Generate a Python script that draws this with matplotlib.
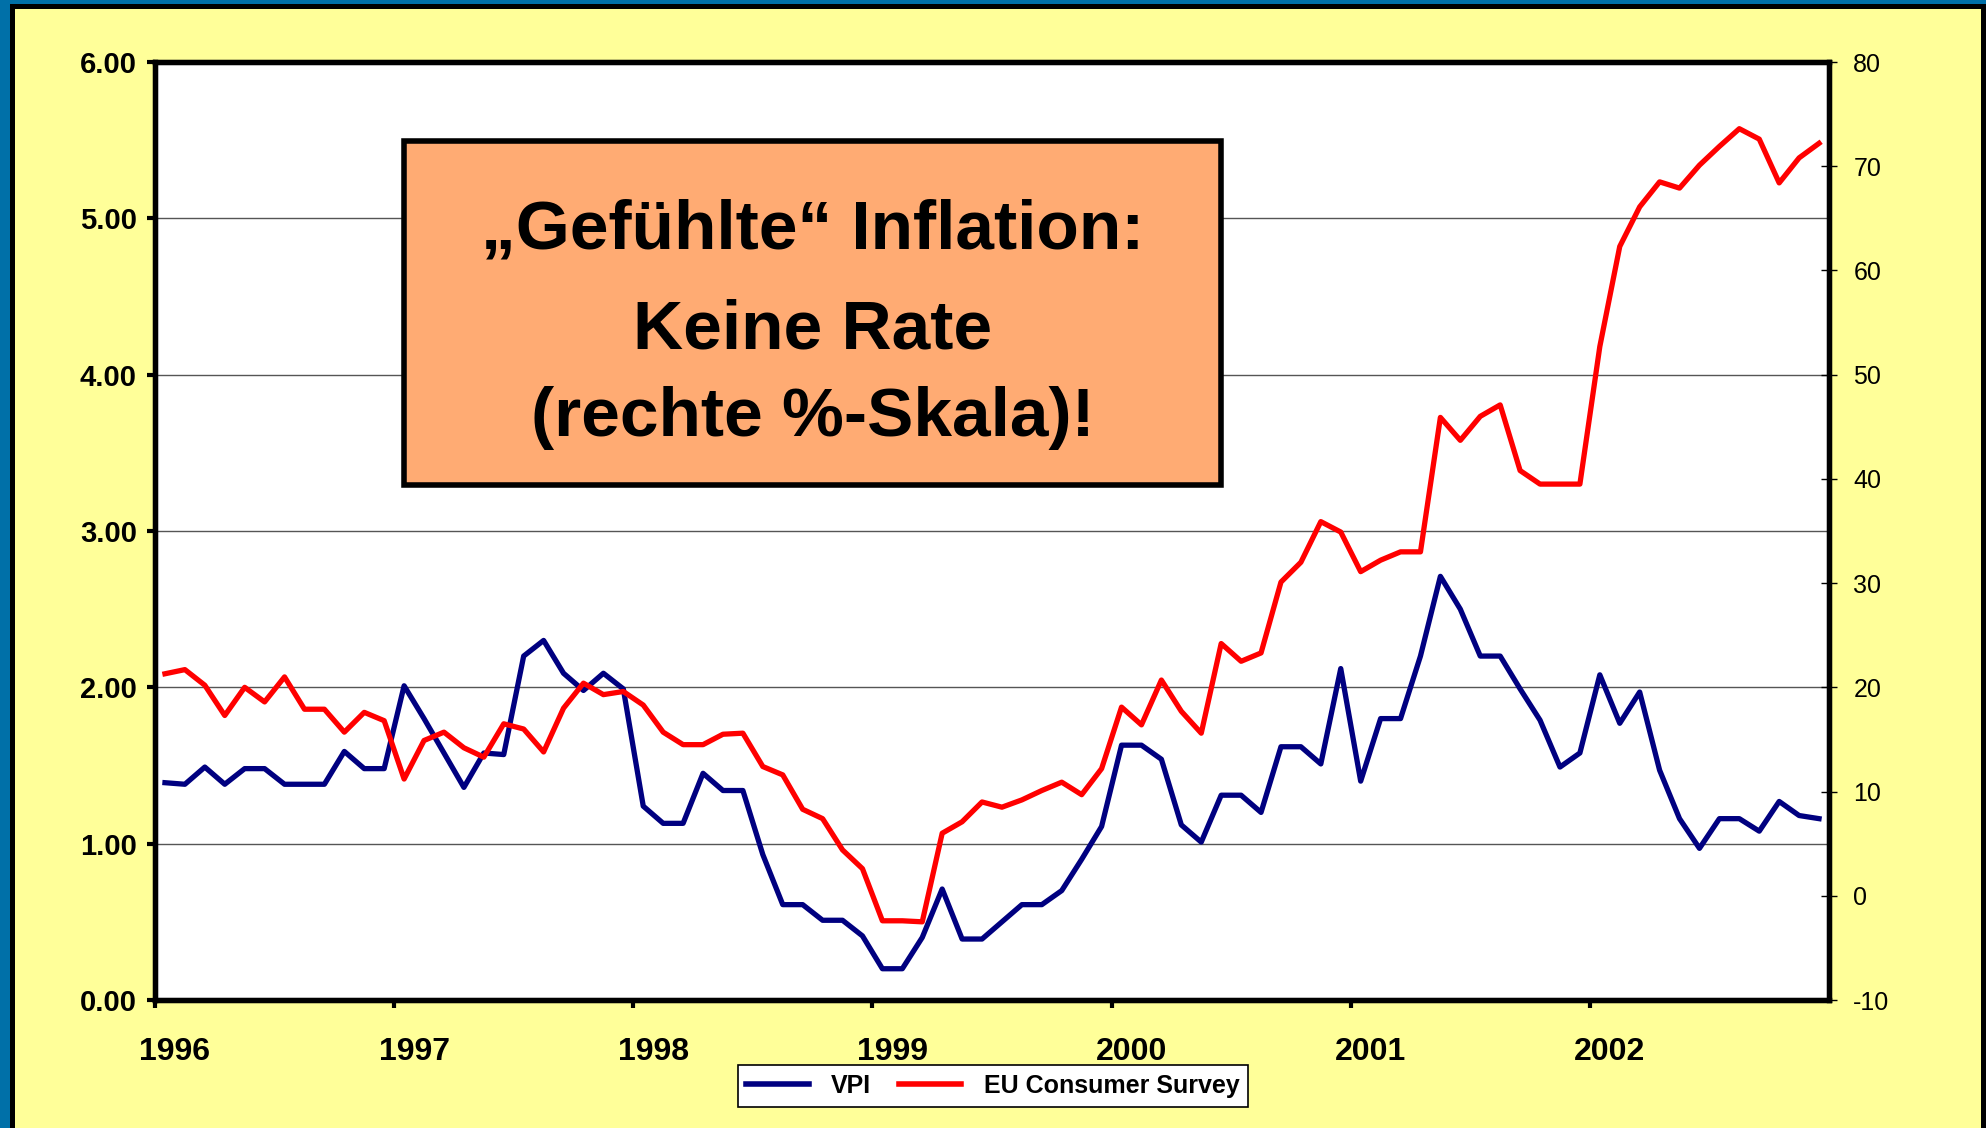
import matplotlib

matplotlib.use("Agg")
import matplotlib.pyplot as plt
from matplotlib.patches import Rectangle
from matplotlib.lines import Line2D
from matplotlib.ticker import FixedLocator, FormatStrFormatter
import numpy as np

plt.rcParams["font.family"] = ["Liberation Sans", "DejaVu Sans"]
plt.rcParams["axes.unicode_minus"] = False

# monthly values, Jan 1996 .. Dec 2002
years = ["1996", "1997", "1998", "1999", "2000", "2001", "2002"]

vpi = [
    1.39, 1.38, 1.49, 1.38, 1.48, 1.48, 1.38, 1.38, 1.38, 1.59, 1.48, 1.48,
    2.01, 1.80, 1.58, 1.36, 1.58, 1.57, 2.20, 2.30, 2.09, 1.98, 2.09, 1.99,
    1.24, 1.13, 1.13, 1.45, 1.34, 1.34, 0.93, 0.61, 0.61, 0.51, 0.51, 0.41,
    0.20, 0.20, 0.40, 0.71, 0.39, 0.39, 0.50, 0.61, 0.61, 0.70, 0.90, 1.11,
    1.63, 1.63, 1.54, 1.12, 1.01, 1.31, 1.31, 1.20, 1.62, 1.62, 1.51, 2.12,
    1.40, 1.80, 1.80, 2.20, 2.71, 2.50, 2.20, 2.20, 1.99, 1.79, 1.49, 1.58,
    2.08, 1.77, 1.97, 1.47, 1.16, 0.97, 1.16, 1.16, 1.08, 1.27, 1.18, 1.16,
]

eu_survey = [
    21.3, 21.7, 20.2, 17.3, 20.0, 18.6, 21.0, 17.9, 17.9, 15.7, 17.6, 16.8,
    11.2, 14.9, 15.7, 14.2, 13.3, 16.5, 16.0, 13.8, 18.0, 20.4, 19.3, 19.6,
    18.3, 15.7, 14.5, 14.5, 15.5, 15.6, 12.4, 11.6, 8.3, 7.4, 4.4, 2.6,
    -2.4, -2.4, -2.5, 6.0, 7.1, 9.0, 8.5, 9.2, 10.1, 10.9, 9.7, 12.2,
    18.1, 16.4, 20.7, 17.7, 15.6, 24.2, 22.5, 23.3, 30.1, 32.0, 35.9, 34.9,
    31.1, 32.2, 33.0, 33.0, 45.9, 43.7, 46.0, 47.1, 40.8, 39.5, 39.5, 39.5,
    52.7, 62.3, 66.1, 68.5, 67.9, 70.1, 71.9, 73.6, 72.6, 68.4, 70.8, 72.2,
]

box_lines = ["\u201eGef\u00fchlte\u201c Inflation:", "Keine Rate", "(rechte %-Skala)!"]

BLUE = "#000080"
RED = "#FF0000"
YELLOW = "#FFFF99"
FRAME = "#0070A8"

fig = plt.figure(figsize=(19.86, 11.28), dpi=100)
fig.patch.set_facecolor(FRAME)
fig.patches.append(Rectangle((11.5 / 1986, -0.05), 1971 / 1986, 1.05 - 6 / 1128,
                             transform=fig.transFigure, facecolor=YELLOW,
                             edgecolor="black", linewidth=3.6, zorder=-10))

ax = fig.add_axes([155 / 1986, 1 - 1000 / 1128, 1674 / 1986, 938 / 1128])
ax.set_facecolor("white")
ax2 = ax.twinx()

n = len(vpi)
x = np.arange(n) + 0.5
ax.plot(x, vpi, color=BLUE, lw=3.8, solid_joinstyle="round", zorder=3)
ax2.plot(x, eu_survey, color=RED, lw=3.8, solid_joinstyle="round", zorder=3)

ax.set_xlim(0, n)
ax.set_ylim(0, 6)
ax2.set_ylim(-10, 80)

ax.set_yticks(np.arange(0, 6.01, 1))
ax.yaxis.set_major_formatter(FormatStrFormatter("%.2f"))
ax.yaxis.grid(True, color="#555555", lw=1)
ax.set_axisbelow(True)
ax2.set_yticks(np.arange(-10, 81, 10))

# tick marks at year starts, labels shifted one month right
ax.xaxis.set_major_locator(FixedLocator(np.arange(0, n, 12)))
ax.xaxis.set_minor_locator(FixedLocator(np.arange(0, n, 12) + 1.0))
ax.set_xticklabels([])
ax.set_xticklabels(years, minor=True)
ax.tick_params(axis="x", which="major", direction="out", length=6, width=3)
ax.tick_params(axis="x", which="minor", length=0, pad=27, labelsize=23)
ax.tick_params(axis="y", direction="out", length=6, width=3, pad=7, labelsize=21)
ax2.tick_params(axis="y", direction="inout", length=11, width=1, pad=12,
                labelsize=18, colors="black")
for lab in ax.get_yticklabels() + ax.get_xticklabels(minor=True):
    lab.set_fontweight("bold")

for sp in ax2.spines.values():
    sp.set_linewidth(3.8)
for sp in ax.spines.values():
    sp.set_linewidth(3.8)

# annotation box
ax2.add_patch(Rectangle((0.149, 0.549), 0.488, 0.367, transform=ax.transAxes,
                        facecolor="#FFAB73", edgecolor="black", linewidth=4,
                        zorder=5))
for txt, yb in zip(box_lines, [0.801, 0.695, 0.601]):
    ax2.text(0.393, yb, txt, transform=ax.transAxes, ha="center", va="baseline",
             fontsize=50, fontweight="bold", zorder=6)

handles = [Line2D([], [], color=BLUE, lw=4), Line2D([], [], color=RED, lw=4)]
leg = fig.legend(handles, ["VPI", "EU Consumer Survey"], loc="center",
                 bbox_to_anchor=(0.5, 1 - 1086 / 1128), ncol=2, fancybox=False,
                 framealpha=1, edgecolor="black", handlelength=2.5,
                 handletextpad=0.9, columnspacing=1.1, borderpad=0.35,
                 borderaxespad=0.0, prop={"size": 18, "weight": "bold"})
leg.get_frame().set_linewidth(1.2)

fig.savefig("out.png", dpi=100, facecolor=fig.get_facecolor())
